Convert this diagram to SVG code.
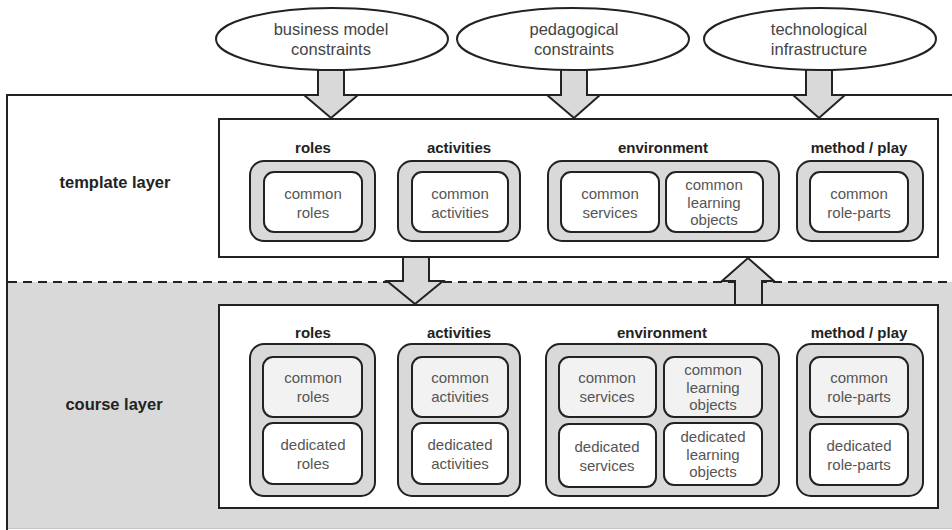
<svg xmlns="http://www.w3.org/2000/svg" width="952" height="530" viewBox="0 0 952 530">
  <defs>
    <style>
      .layer { fill: #ffffff; stroke: #222; stroke-width: 2; }
      .band { fill: #d9d9d9; stroke: none; }
      .dash { stroke: #222; stroke-width: 2; stroke-dasharray: 9 6; fill: none; }
      .panel { fill: #ffffff; stroke: #222; stroke-width: 2; }
      .group { fill: #d9d9d9; stroke: #222; stroke-width: 2; }
      .item { fill: #ffffff; stroke: #222; stroke-width: 2; }
      .item.shared { fill: #f2f2f2; }
      .ell { fill: #ffffff; stroke: #222; stroke-width: 2; }
      .block { fill: #d9d9d9; stroke: #222; stroke-width: 2; stroke-linejoin: miter; }
      text { font-family: "Liberation Sans", Arial, sans-serif; text-anchor: middle; }
      .t { font-size: 15px; fill: #555; }
      .et { font-size: 16.5px; fill: #444; }
      .h { font-size: 15px; font-weight: bold; fill: #222; }
      .lh { font-size: 16.5px; font-weight: bold; fill: #222; }
    </style>
  </defs>

  <!-- layer frame: template layer on top, course layer shaded below -->
  <g id="layers">
    <rect class="layer" x="7" y="95" width="970" height="437"/>
    <rect class="band" x="8" y="282" width="960" height="246"/>
    <line x1="8" y1="528.5" x2="952" y2="528.5" stroke="#c4c4c4" stroke-width="1"/>
    <line class="dash" x1="8" y1="282" x2="952" y2="282"/>
    <text class="lh" x="115" y="188">template layer</text>
    <text class="lh" x="114" y="410">course layer</text>
  </g>

  <!-- template layer panel -->
  <g id="template-panel">
    <rect class="panel" x="219" y="119" width="719" height="138"/>
  </g>
  <g id="t-roles">
    <text class="h" x="313" y="153">roles</text>
    <rect class="group" x="250" y="161" width="125" height="80" rx="14"/>
    <rect class="item" x="264" y="172" width="98" height="60" rx="10"/>
    <text class="t" x="313" y="199">common</text>
    <text class="t" x="313" y="218">roles</text>
  </g>
  <g id="t-activities">
    <text class="h" x="459" y="153">activities</text>
    <rect class="group" x="398" y="161" width="122" height="80" rx="14"/>
    <rect class="item" x="412" y="172" width="96" height="60" rx="10"/>
    <text class="t" x="460" y="199">common</text>
    <text class="t" x="460" y="218">activities</text>
  </g>
  <g id="t-environment">
    <text class="h" x="663" y="153">environment</text>
    <rect class="group" x="548" y="161" width="231" height="80" rx="14"/>
    <rect class="item" x="561" y="172" width="98" height="60" rx="10"/>
    <text class="t" x="610" y="199">common</text>
    <text class="t" x="610" y="218">services</text>
    <rect class="item" x="666" y="172" width="97" height="60" rx="10"/>
    <text class="t" x="714" y="190">common</text>
    <text class="t" x="714" y="207.5">learning</text>
    <text class="t" x="714" y="225">objects</text>
  </g>
  <g id="t-method">
    <text class="h" x="859" y="153">method / play</text>
    <rect class="group" x="797" y="161" width="126" height="80" rx="14"/>
    <rect class="item" x="810" y="172" width="98" height="60" rx="10"/>
    <text class="t" x="859" y="199">common</text>
    <text class="t" x="859" y="218">role-parts</text>
  </g>

  <!-- course layer panel -->
  <g id="course-panel">
    <rect class="panel" x="219" y="305" width="719" height="203"/>
  </g>
  <g id="c-roles">
    <text class="h" x="313" y="338">roles</text>
    <rect class="group" x="250" y="344" width="125" height="152" rx="14"/>
    <rect class="item shared" x="263" y="357" width="99" height="60" rx="10"/>
    <text class="t" x="313" y="383">common</text>
    <text class="t" x="313" y="402">roles</text>
    <rect class="item" x="263" y="423" width="99" height="61" rx="10"/>
    <text class="t" x="313" y="450">dedicated</text>
    <text class="t" x="313" y="469">roles</text>
  </g>
  <g id="c-activities">
    <text class="h" x="459" y="338">activities</text>
    <rect class="group" x="398" y="344" width="122" height="152" rx="14"/>
    <rect class="item shared" x="412" y="357" width="96" height="60" rx="10"/>
    <text class="t" x="460" y="383">common</text>
    <text class="t" x="460" y="402">activities</text>
    <rect class="item" x="412" y="423" width="96" height="61" rx="10"/>
    <text class="t" x="460" y="450">dedicated</text>
    <text class="t" x="460" y="469">activities</text>
  </g>
  <g id="c-environment">
    <text class="h" x="662" y="338">environment</text>
    <rect class="group" x="546" y="344" width="233" height="152" rx="14"/>
    <rect class="item shared" x="559" y="357" width="97" height="60" rx="10"/>
    <text class="t" x="607" y="383">common</text>
    <text class="t" x="607" y="402">services</text>
    <rect class="item shared" x="664" y="357" width="98" height="60" rx="10"/>
    <text class="t" x="713" y="375">common</text>
    <text class="t" x="713" y="392.5">learning</text>
    <text class="t" x="713" y="410">objects</text>
    <rect class="item" x="559" y="424" width="97" height="63" rx="10"/>
    <text class="t" x="607" y="452">dedicated</text>
    <text class="t" x="607" y="471">services</text>
    <rect class="item" x="664" y="423" width="98" height="62" rx="10"/>
    <text class="t" x="713" y="442">dedicated</text>
    <text class="t" x="713" y="459.5">learning</text>
    <text class="t" x="713" y="477">objects</text>
  </g>
  <g id="c-method">
    <text class="h" x="859" y="338">method / play</text>
    <rect class="group" x="797" y="344" width="126" height="152" rx="14"/>
    <rect class="item shared" x="810" y="357" width="98" height="60" rx="10"/>
    <text class="t" x="859" y="383">common</text>
    <text class="t" x="859" y="402">role-parts</text>
    <rect class="item" x="810" y="424" width="98" height="61" rx="10"/>
    <text class="t" x="859" y="451">dedicated</text>
    <text class="t" x="859" y="470">role-parts</text>
  </g>

  <!-- block arrows -->
  <g id="connectors">
    <path class="block" d="M318,64 L344,64 L344,95 L358,95 L331,118 L304,95 L318,95 Z"/>
    <path class="block" d="M561,64 L587,64 L587,95 L600,95 L574,118 L547,95 L561,95 Z"/>
    <path class="block" d="M806,64 L832,64 L832,95 L845,95 L819,118 L793,95 L806,95 Z"/>
    <path class="block" d="M403,257 L429,257 L429,281 L443,281 L415,304 L387,281 L403,281 Z"/>
    <path class="block" d="M735,305 L762,305 L762,281 L774,281 L748,258 L722,281 L735,281 Z"/>
  </g>

  <!-- external drivers -->
  <g id="business-model">
    <ellipse class="ell" cx="332" cy="39" rx="116" ry="31"/>
    <text class="et" x="331" y="35">business model</text>
    <text class="et" x="331" y="55">constraints</text>
  </g>
  <g id="pedagogical">
    <ellipse class="ell" cx="573" cy="39" rx="116" ry="31"/>
    <text class="et" x="574" y="35">pedagogical</text>
    <text class="et" x="574" y="55">constraints</text>
  </g>
  <g id="technological">
    <ellipse class="ell" cx="820" cy="39" rx="116" ry="31"/>
    <text class="et" x="819" y="35">technological</text>
    <text class="et" x="819" y="55">infrastructure</text>
  </g>
</svg>
